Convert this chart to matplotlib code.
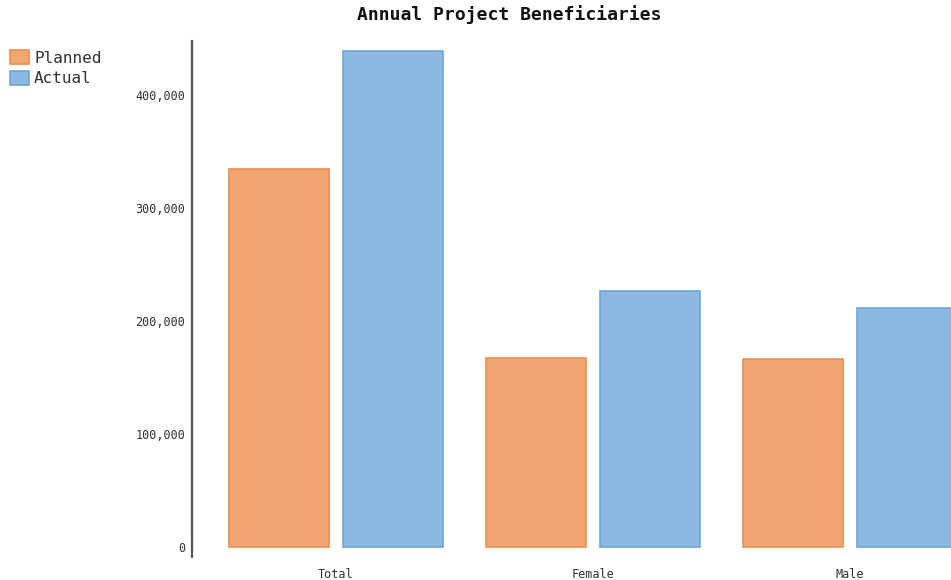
import matplotlib.pyplot as plt
import numpy as np
from matplotlib.ticker import FuncFormatter

categories = ['Total', 'Female', 'Male']
planned = [334000, 167400, 166500]
actual = [438800, 226400, 211500]

mono = 'DejaVu Sans Mono'
plt.rcParams['font.family'] = mono

fig = plt.figure(figsize=(9.51, 5.8), dpi=100)
ax = fig.add_axes([192 / 951, 1 - 557 / 580, 1 - 192 / 951, (557 - 41) / 580])

x = np.arange(len(categories))
w = 0.389
off = 0.222
b1 = ax.bar(x - off, planned, w, color='#f2a772', edgecolor='#ee8d4f', linewidth=1.2, label='Planned')
b2 = ax.bar(x + off, actual, w, color='#8cb8e2', edgecolor='#6fa5dc', linewidth=1.2, label='Actual')

ax.set_xlim(-0.560, 2.393)
ax.set_ylim(-8800, 447600)
ax.set_yticks([0, 100000, 200000, 300000, 400000])
ax.yaxis.set_major_formatter(FuncFormatter(lambda v, p: f'{int(v):,}'))
ax.set_xticks(x)
ax.set_xticklabels(categories)
ax.tick_params(axis='both', length=0, labelsize=8.5, colors='#333333')
ax.tick_params(axis='y', pad=5)
ax.tick_params(axis='x', pad=8)

for s in ['top', 'right', 'bottom']:
    ax.spines[s].set_visible(False)
ax.spines['left'].set_color('#555555')
ax.spines['left'].set_linewidth(1.6)

fig.text(509 / 951, 1 - 15 / 580, 'Annual Project Beneficiaries', ha='center', va='center',
         fontsize=13, fontweight='bold', color='#111111')

fig.legend(handles=[b1, b2], loc='upper left', bbox_to_anchor=(-0.001, 1 - 39 / 580),
           frameon=False, fontsize=11.5, handlelength=1.2, handleheight=1.0,
           handletextpad=0.3, labelspacing=0.3, borderaxespad=0.3, labelcolor='#333333')

fig.savefig('out.png', dpi=100)
